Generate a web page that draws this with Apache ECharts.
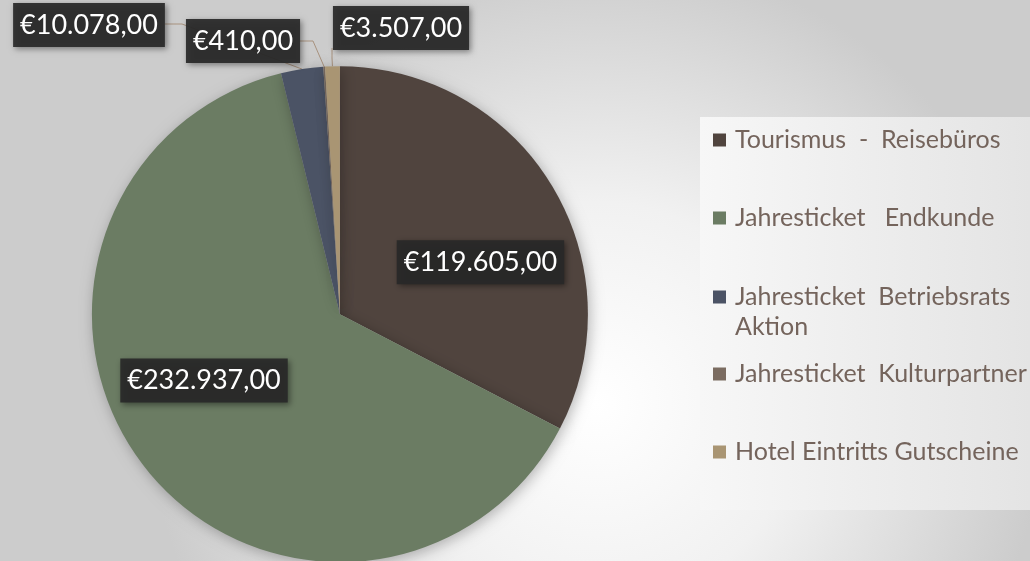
<!DOCTYPE html>
<html>
<head>
<meta charset="utf-8">
<script src="https://cdn.jsdelivr.net/npm/echarts@6/dist/echarts.min.js"></script>
<style>
html,body{margin:0;padding:0;background:#e6e6e6;}
#chart{width:1030px;height:561px;}
</style>
</head>
<body>
<div id="chart"></div>
<script>
const categories = ['Tourismus  -  Reisebüros', 'Jahresticket   Endkunde', 'Jahresticket  Betriebsrats Aktion', 'Jahresticket  Kulturpartner', 'Hotel Eintritts Gutscheine'];
const values = [119605, 232937, 10078, 410, 3507];
const colors = ['#50443e', '#6b7c63', '#4b5365', '#7b6c61', '#a99573'];
const labelPositions = ['inside', 'inside', 'outside', 'outside', 'outside'];

// label placement (layout only)
const labelPlacement = [
  { dx: 32, dy: 14 },
  { dx: -36, dy: -12 },
  { x: 89, y: 25, line: [[182, 24], [165, 24]] },
  { x: 243, y: 41, line: [[313, 41], [300, 41]] },
  { x: 401, y: 28, line: [[332, 58], [332, 48]] }
];

function euro(v) {
  const s = String(Math.round(v)).replace(/\B(?=(\d{3})+(?!\d))/g, '.');
  return '€' + s + ',00';
}

const chart = echarts.init(document.getElementById('chart'), null, { renderer: 'canvas' });

const legendText = {
  fontFamily: 'Lato',
  fontSize: 25,
  color: '#74645c',
  lineHeight: 30,
  padding: [0, 0, 0, 4]
};
const legendBase = {
  orient: 'vertical',
  left: 713,
  padding: 0,
  itemWidth: 13,
  itemHeight: 13,
  itemGap: 48,
  icon: 'rect',
  textStyle: legendText
};

const option = {
  backgroundColor: {
    type: 'radial', x: 0.58, y: 0.72, r: 0.8,
    colorStops: [
      { offset: 0, color: '#ffffff' },
      { offset: 0.45, color: '#f1f1f1' },
      { offset: 1, color: '#cccccc' }
    ]
  },
  animation: false,
  graphic: [{
    type: 'rect', z: 0,
    shape: { x: 700, y: 117, width: 330, height: 393 },
    style: {
      fill: {
        type: 'linear', x: 0, y: 0, x2: 1, y2: 0,
        colorStops: [{ offset: 0, color: '#f7f7f7' }, { offset: 1, color: '#e4e4e4' }]
      }
    }
  }],
  legend: [
    Object.assign({}, legendBase, { top: 125, data: categories.slice(0, 2) }),
    Object.assign({}, legendBase, {
      top: 252,
      data: [categories[2]],
      formatter: name => '\n' + name,
      textStyle: Object.assign({}, legendText, { width: 290, overflow: 'break' })
    }),
    Object.assign({}, legendBase, { top: 359, data: categories.slice(3) })
  ],
  series: [{
    type: 'pie',
    center: ['33%', '56%'],
    radius: 248,
    startAngle: 90,
    clockwise: true,
    avoidLabelOverlap: false,
    itemStyle: {
      shadowBlur: 14,
      shadowColor: 'rgba(0,0,0,0.28)',
      shadowOffsetX: 2,
      shadowOffsetY: 3
    },
    label: {
      formatter: p => euro(p.value),
      color: '#ffffff',
      fontFamily: 'Lato',
      fontSize: 27,
      lineHeight: 31,
      backgroundColor: 'rgba(40,40,40,0.92)',
      padding: [7, 7, 6, 7],
      shadowBlur: 6,
      shadowColor: 'rgba(0,0,0,0.45)',
      shadowOffsetX: 2,
      shadowOffsetY: 2
    },
    labelLine: {
      show: true,
      length: 10,
      length2: 10,
      lineStyle: { color: '#a8927e', width: 1 }
    },
    labelLayout: function (params) {
      const pl = labelPlacement[params.dataIndex];
      if (pl.dx !== undefined) {
        return { dx: pl.dx, dy: pl.dy };
      }
      const p0 = params.labelLinePoints ? params.labelLinePoints[0] : null;
      const res = { x: pl.x, y: pl.y, align: 'center', verticalAlign: 'middle' };
      if (p0) res.labelLinePoints = [p0, pl.line[0], pl.line[1]];
      return res;
    },
    data: categories.map((c, i) => ({
      name: c,
      value: values[i],
      itemStyle: { color: colors[i] },
      label: { position: labelPositions[i] }
    }))
  }]
};
chart.setOption(option);
</script>
</body>
</html>
